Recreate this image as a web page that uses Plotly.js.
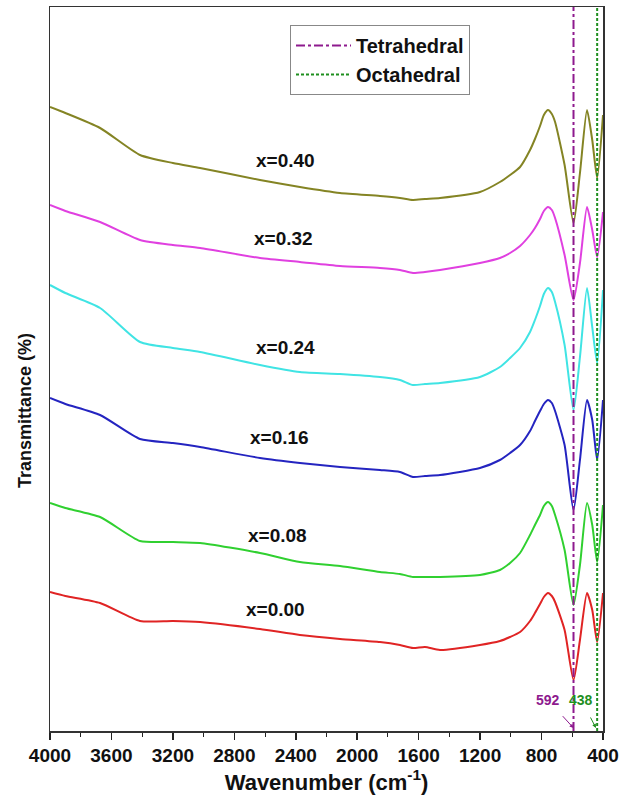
<!DOCTYPE html>
<html>
<head>
<meta charset="utf-8">
<script src="https://cdn.plot.ly/plotly-3.0.1.min.js"></script>
<style>html,body{margin:0;padding:0;background:#fff;}#chart{width:633px;height:797px;}</style>
</head>
<body>
<div id="chart"></div>
<script>
// Wavenumber grid (cm^-1)
var wavenumber = [4000, 3900, 3674, 3414, 3200, 3023, 2633, 2373, 2112, 1852, 1722, 1637, 1559, 1461, 1201, 1071, 1005, 940, 875, 843, 810, 785, 758, 733, 712, 650, 592, 550, 504, 470, 438, 400];
// Transmittance (offset, arbitrary units)
var t040 = [62.4, 61.8, 60.3, 57.6, 56.8, 56.3, 55.1, 54.4, 53.8, 53.5, 53.3, 53.1, 53.2, 53.3, 53.9, 54.9, 55.6, 56.4, 58.1, 59.2, 60.5, 61.6, 62.1, 61.7, 60.9, 56.6, 50.8, 55.8, 62.1, 59.1, 55.3, 61.6];
var t032 = [52.6, 52.0, 50.9, 49.1, 48.6, 48.3, 47.3, 46.9, 46.5, 46.3, 46.1, 45.8, 45.9, 46.1, 46.8, 47.3, 47.8, 48.5, 49.6, 50.3, 51.2, 52.0, 52.4, 52.1, 51.3, 47.6, 43.1, 46.8, 52.4, 50.1, 47.4, 51.9];
var t024 = [44.6, 43.8, 42.3, 38.9, 38.3, 37.9, 36.6, 35.9, 35.7, 35.4, 35.1, 34.6, 34.7, 34.8, 35.4, 36.4, 37.3, 38.3, 39.9, 41.1, 42.5, 43.7, 44.3, 43.9, 42.9, 38.6, 32.1, 37.4, 44.3, 40.4, 36.8, 44.1];
var t016 = [33.3, 32.7, 31.6, 29.2, 28.8, 28.4, 27.3, 26.8, 26.4, 26.1, 25.9, 25.4, 25.5, 25.6, 26.3, 27.1, 27.8, 28.6, 30.0, 31.0, 32.0, 32.7, 33.1, 32.8, 32.0, 28.6, 22.1, 27.1, 33.1, 31.1, 27.1, 33.1];
var t008 = [22.8, 22.3, 21.4, 19.0, 18.9, 18.8, 17.8, 16.9, 16.5, 15.9, 15.7, 15.4, 15.4, 15.4, 15.6, 16.1, 16.8, 17.8, 19.6, 20.6, 21.6, 22.5, 22.9, 22.5, 21.6, 18.1, 12.6, 16.6, 22.8, 20.6, 16.9, 22.6];
var t000 = [13.9, 13.5, 12.8, 11.0, 11.0, 10.9, 10.2, 9.6, 9.2, 8.9, 8.6, 8.3, 8.4, 8.1, 8.6, 9.0, 9.4, 9.9, 11.0, 11.8, 12.7, 13.4, 13.8, 13.5, 12.9, 10.1, 5.1, 9.1, 13.8, 12.1, 8.9, 13.8];

var seriesNames = ["x=0.40", "x=0.32", "x=0.24", "x=0.16", "x=0.08", "x=0.00"];
var seriesData = [t040, t032, t024, t016, t008, t000];
var seriesColors = ["#848424", "#e040e0", "#40e4e4", "#2424c0", "#30d030", "#e02424"];
// label anchor positions (wavenumber, transmittance)
var labelX = [2470, 2483, 2470, 2503, 2522, 2535];
var labelY = [57.1, 49.3, 38.4, 29.4, 19.6, 12.2];

// band positions
var bandNames = ["Tetrahedral", "Octahedral"];
var bandPos = [592, 438];
var bandColors = ["#8e1a8e", "#1f8f1f"];
var bandDash = ["dashdot", "3px,2px"];

var yMax = 72.4;
var FAM = "Liberation Sans, Arial, sans-serif";
var traces = [];
for (var i = 0; i < seriesNames.length; i++) {
  traces.push({
    x: wavenumber, y: seriesData[i], type: "scatter", mode: "lines",
    name: seriesNames[i], showlegend: false,
    line: {color: seriesColors[i], width: 2, shape: "spline", smoothing: 0.6}
  });
}
for (var j = 0; j < bandNames.length; j++) {
  traces.push({
    x: [bandPos[j], bandPos[j]], y: [0, yMax], type: "scatter", mode: "lines",
    name: bandNames[j], showlegend: true,
    line: {color: bandColors[j], width: 2, dash: bandDash[j]}
  });
}

var annotations = [];
for (var k = 0; k < seriesNames.length; k++) {
  annotations.push({x: labelX[k], y: labelY[k], xref: "x", yref: "y", text: seriesNames[k],
    showarrow: false, font: {family: FAM, size: 19, color: "#111", weight: 700}});
}
annotations.push({x: bandPos[0], y: 0.3, ax: 758, ay: 3.1, axref: "x", ayref: "y", xref: "x", yref: "y",
  text: String(bandPos[0]), showarrow: true, arrowhead: 2, arrowsize: 0.8, arrowwidth: 1, arrowcolor: bandColors[0],
  font: {family: FAM, size: 14, color: bandColors[0], weight: 700}, standoff: 0, startstandoff: 9});
annotations.push({x: 446, y: 0.3, ax: 540, ay: 3.1, axref: "x", ayref: "y", xref: "x", yref: "y",
  text: String(bandPos[1]), showarrow: true, arrowhead: 2, arrowsize: 0.8, arrowwidth: 1, arrowcolor: bandColors[1],
  font: {family: FAM, size: 14, color: bandColors[1], weight: 700}, standoff: 0, startstandoff: 9});
// y-axis title placed as rotated annotation
annotations.push({x: -0.045, y: 0.442, xref: "paper", yref: "paper", text: "Transmittance (%)",
  textangle: -90, showarrow: false, xanchor: "center", yanchor: "middle",
  font: {family: FAM, size: 18, color: "#111", weight: 700}});

var layout = {
  width: 633, height: 797,
  margin: {l: 50, r: 30, t: 7, b: 66},
  paper_bgcolor: "#fff", plot_bgcolor: "#fff",
  font: {family: FAM, color: "#111"},
  xaxis: {
    range: [4000, 400], autorange: false,
    tickvals: [4000, 3600, 3200, 2800, 2400, 2000, 1600, 1200, 800, 400],
    ticks: "outside", ticklen: 7, tickwidth: 1.5, tickcolor: "#222",
    minor: {dtick: 200, tick0: 0, ticks: "outside", ticklen: 4, tickwidth: 1, tickcolor: "#222"},
    showline: true, linecolor: "#333", linewidth: 1.5, mirror: true,
    showgrid: false, zeroline: false,
    tickfont: {family: FAM, size: 19, color: "#111", weight: 700},
    title: {text: "Wavenumber (cm<sup>-1</sup>)", standoff: 4,
      font: {family: FAM, size: 22, color: "#111", weight: 700}}
  },
  yaxis: {
    range: [0, yMax], autorange: false,
    showticklabels: false, ticks: "",
    showline: true, linecolor: "#333", linewidth: 1.5, mirror: true,
    showgrid: false, zeroline: false
  },
  showlegend: true,
  legend: {x: 0.434, y: 0.975, xanchor: "left", yanchor: "top",
    bgcolor: "#fff", bordercolor: "#888", borderwidth: 1,
    font: {family: FAM, size: 20, color: "#111", weight: 700},
    itemwidth: 55, tracegroupgap: 0},
  annotations: annotations
};

Plotly.newPlot("chart", traces, layout, {displayModeBar: false, staticPlot: true});
</script>
</body>
</html>
